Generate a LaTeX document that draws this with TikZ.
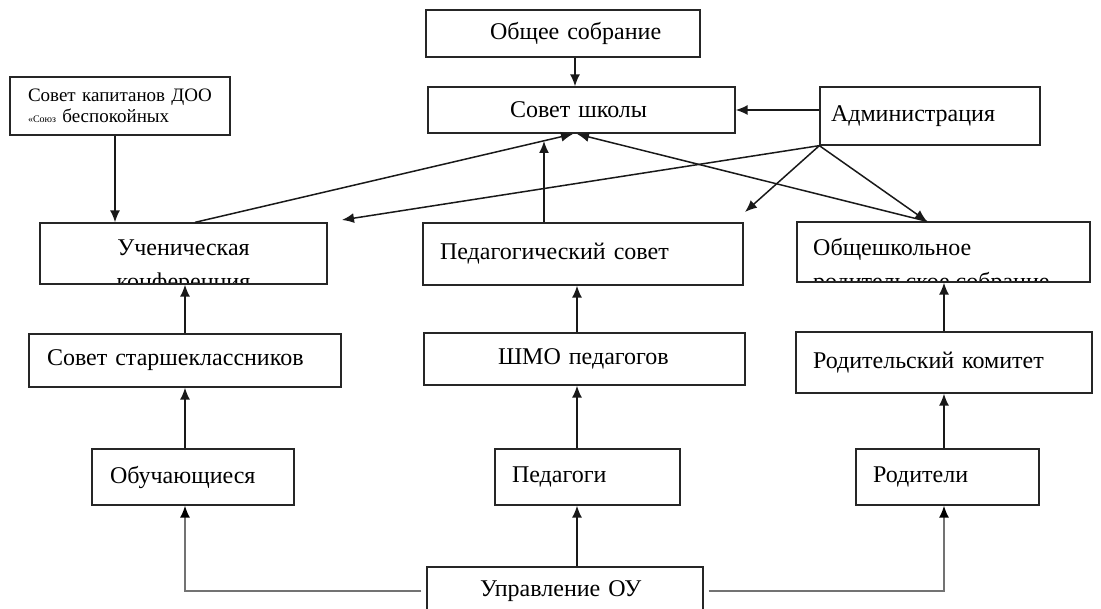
\documentclass[tikz,border=0pt]{standalone}
\usepackage{fontspec}
\setmainfont{Liberation Serif}
\usetikzlibrary{arrows.meta,calc}
\begin{document}
\begin{tikzpicture}[x=1pt,y=-1pt,
  box/.style={draw=black!85, line width=1.3pt, inner xsep=0pt, inner ysep=0pt, align=left, font=\fontsize{24}{28}\selectfont},
  txt/.style={inner sep=0pt, font=\fontsize{24}{28}\selectfont},
  arr/.style={line width=1.5pt, draw=black!90, -{Latex[length=12pt,width=10pt]}},
  gline/.style={line width=1.5pt, draw=black!55, -{Latex[length=12pt,width=10pt,color=black]}}]
\useasboundingbox (0,0) rectangle (1101,609);
\clip (0,0) rectangle (1101,609);

% top row
\node[box, text width=274, minimum height=47] (obsh) at (563,33.5) {\hspace*{64pt}Общее собрание};
\node[box, text width=307, minimum height=46] (sovsh) at (581.5,110) {\hspace*{82pt}Совет школы};
\node[box, text width=220, minimum height=58] (adm) at (930,116) {\hspace*{11pt}Администрация};
\node[box, text width=220, minimum height=58, font=\fontsize{19}{21}\selectfont] (kap) at (120,106)
  {\hspace*{18pt}Совет капитанов ДОО\\\hspace*{18pt}{\fontsize{10}{10}\selectfont«Союз} беспокойных};

% second row (texts clipped by their boxes)
\begin{scope}
  \clip (40,223) rectangle (327,284);
  \node[txt, anchor=base] (uch1) at (183.5,256) {Ученическая};
  \node[txt, anchor=base] (uch2) at (183.5,290) {конференция};
\end{scope}
\node[box, minimum width=287, minimum height=61] (uch) at (183.5,253.5) {};
\node[box, text width=320, minimum height=62] (ped) at (583,254) {\hspace*{17pt}Педагогический совет};
\begin{scope}
  \clip (797,222) rectangle (1090,282);
  \node[txt, anchor=base west] (rod1) at (813,256) {Общешкольное};
  \node[txt, anchor=base west] (rod2) at (813,290) {родительское собрание};
\end{scope}
\node[box, minimum width=293, minimum height=60] (rod) at (943.5,252) {};

% third row
\node[box, text width=312, minimum height=53] (sovst) at (185,360.5) {\hspace*{18pt}Совет старшеклассников};
\node[box, text width=321, minimum height=52] (shmo) at (584.5,359) {\hspace*{74pt}ШМО педагогов};
\node[box, text width=296, minimum height=61] (rk) at (944,362.5) {\hspace*{17pt}Родительский комитет};

% fourth row
\node[box, text width=202, minimum height=56] (obuch) at (193,477) {\hspace*{18pt}Обучающиеся};
\node[box, text width=185, minimum height=56] (pedg) at (587.5,477) {\hspace*{17pt}Педагоги};
\node[box, text width=183, minimum height=56] (roditeli) at (947.5,477) {\hspace*{17pt}Родители};

% bottom
\node[box, text width=276, minimum height=48] (upr) at (565,591) {\hspace*{53pt}Управление ОУ};

% free ends
\coordinate (hubL) at (573,134);
\coordinate (hubR) at (577,134);
\coordinate (pedtip) at (544,141);
\coordinate (admUch) at (342,220);
\coordinate (admPed) at (745,212);

% connectors
\draw[arr] ([xshift=12pt]obsh.south) -- ([xshift=12pt]obsh.south |- sovsh.north);
\draw[arr] (adm.west |- sovsh.east) -- (sovsh.east);
\draw[arr] ([xshift=-5pt]kap.south) -- ([xshift=-5pt]kap.south |- uch.north);
\draw[arr] ([xshift=11.5pt]uch.north) -- (hubL);
\draw[arr] ([xshift=-39pt]ped.north) -- (pedtip);
\draw[arr] ([xshift=-16.5pt]rod.north) -- (hubR);
\draw[arr] (adm.south west) -- (admUch);
\draw[arr] (adm.south west) -- (admPed);
\draw[arr] (adm.south west) -- ([xshift=-16.5pt]rod.north);

\draw[arr] (sovst.north) -- (sovst.north |- uch.south);
\draw[arr] (obuch.north -| sovst.south) -- (sovst.south);
\draw[arr] ([xshift=-7.5pt]shmo.north) -- ([xshift=-7.5pt]shmo.north |- ped.south);
\draw[arr] ([xshift=-10.5pt]pedg.north) -- ([xshift=-10.5pt]pedg.north |- shmo.south);
\draw[arr] (rk.north) -- (rk.north |- rod.south);
\draw[arr] (roditeli.north -| rk.south) -- (rk.south);

\draw[arr] ([xshift=12pt]upr.north) -- ([xshift=12pt]upr.north |- pedg.south);
\draw[gline] ([xshift=-5pt]upr.west) -| (sovst.south |- obuch.south);
\draw[gline] ([xshift=5pt]upr.east) -| (rk.south |- roditeli.south);
\end{tikzpicture}
\end{document}
